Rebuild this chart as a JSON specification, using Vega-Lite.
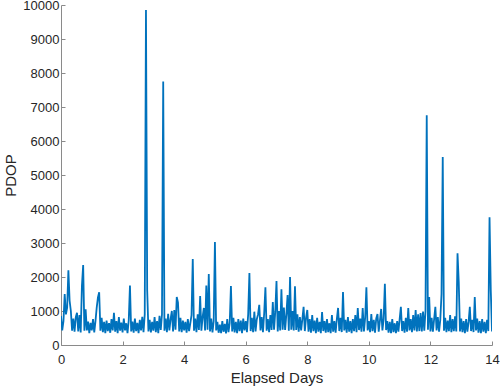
{
  "$schema": "https://vega.github.io/schema/vega-lite/v6.json",
  "width": 431,
  "height": 340,
  "autosize": {"type": "none"},
  "padding": {"left": 61, "top": 5, "right": 8, "bottom": 42},
  "background": "white",
  "config": {
    "view": {"stroke": null},
    "font": "Liberation Sans",
    "axis": {
      "domainColor": "#8a8a8a",
      "tickColor": "#8a8a8a",
      "labelColor": "#262626",
      "titleColor": "#262626",
      "labelFontSize": 13,
      "titleFontSize": 15,
      "titleFontWeight": "normal",
      "grid": false,
      "tickSize": -4,
      "labelFont": "Liberation Sans",
      "titleFont": "Liberation Sans",
      "format": "d"
    }
  },
  "data": {
    "values": [
      {"day":0.00,"pdop":850},{"day":0.04,"pdop":430},{"day":0.08,"pdop":700},{"day":0.12,"pdop":1500},{"day":0.16,"pdop":900},{"day":0.20,"pdop":1100},{"day":0.24,"pdop":2200},{"day":0.28,"pdop":1300},{"day":0.32,"pdop":1000},{"day":0.36,"pdop":420},{"day":0.40,"pdop":780},{"day":0.44,"pdop":390},{"day":0.48,"pdop":820},{"day":0.52,"pdop":950},{"day":0.56,"pdop":400},{"day":0.60,"pdop":880},{"day":0.64,"pdop":370},{"day":0.68,"pdop":1750},{"day":0.72,"pdop":2350},{"day":0.76,"pdop":420},{"day":0.80,"pdop":1050},{"day":0.84,"pdop":430},{"day":0.88,"pdop":690},{"day":0.92,"pdop":350},{"day":0.96,"pdop":650},
      {"day":1.00,"pdop":430},{"day":1.04,"pdop":760},{"day":1.08,"pdop":370},{"day":1.12,"pdop":700},{"day":1.16,"pdop":1100},{"day":1.20,"pdop":1400},{"day":1.24,"pdop":1550},{"day":1.28,"pdop":420},{"day":1.32,"pdop":800},{"day":1.36,"pdop":380},{"day":1.40,"pdop":680},{"day":1.44,"pdop":350},{"day":1.48,"pdop":720},{"day":1.52,"pdop":410},{"day":1.56,"pdop":640},{"day":1.60,"pdop":360},{"day":1.64,"pdop":760},{"day":1.68,"pdop":430},{"day":1.72,"pdop":950},{"day":1.76,"pdop":390},{"day":1.80,"pdop":700},{"day":1.84,"pdop":350},{"day":1.88,"pdop":820},{"day":1.92,"pdop":420},{"day":1.96,"pdop":660},
      {"day":2.00,"pdop":370},{"day":2.04,"pdop":780},{"day":2.08,"pdop":430},{"day":2.12,"pdop":640},{"day":2.16,"pdop":350},{"day":2.20,"pdop":720},{"day":2.24,"pdop":1750},{"day":2.28,"pdop":400},{"day":2.32,"pdop":690},{"day":2.36,"pdop":360},{"day":2.40,"pdop":780},{"day":2.44,"pdop":410},{"day":2.48,"pdop":650},{"day":2.52,"pdop":350},{"day":2.56,"pdop":740},{"day":2.60,"pdop":430},{"day":2.64,"pdop":830},{"day":2.68,"pdop":380},{"day":2.72,"pdop":900},{"day":2.76,"pdop":9850},{"day":2.80,"pdop":1600},{"day":2.84,"pdop":400},{"day":2.88,"pdop":740},{"day":2.92,"pdop":370},{"day":2.96,"pdop":680},
      {"day":3.00,"pdop":420},{"day":3.04,"pdop":820},{"day":3.08,"pdop":380},{"day":3.12,"pdop":700},{"day":3.16,"pdop":350},{"day":3.20,"pdop":860},{"day":3.24,"pdop":440},{"day":3.28,"pdop":900},{"day":3.32,"pdop":7750},{"day":3.36,"pdop":420},{"day":3.40,"pdop":780},{"day":3.44,"pdop":380},{"day":3.48,"pdop":920},{"day":3.52,"pdop":430},{"day":3.56,"pdop":760},{"day":3.60,"pdop":1000},{"day":3.64,"pdop":400},{"day":3.68,"pdop":1030},{"day":3.72,"pdop":450},{"day":3.76,"pdop":1410},{"day":3.80,"pdop":1250},{"day":3.84,"pdop":400},{"day":3.88,"pdop":800},{"day":3.92,"pdop":380},{"day":3.96,"pdop":720},
      {"day":4.00,"pdop":430},{"day":4.04,"pdop":680},{"day":4.08,"pdop":360},{"day":4.12,"pdop":760},{"day":4.16,"pdop":410},{"day":4.20,"pdop":640},{"day":4.24,"pdop":880},{"day":4.28,"pdop":2530},{"day":4.32,"pdop":420},{"day":4.36,"pdop":780},{"day":4.40,"pdop":380},{"day":4.44,"pdop":900},{"day":4.48,"pdop":440},{"day":4.52,"pdop":1440},{"day":4.56,"pdop":420},{"day":4.60,"pdop":820},{"day":4.64,"pdop":1090},{"day":4.68,"pdop":430},{"day":4.72,"pdop":1750},{"day":4.76,"pdop":450},{"day":4.80,"pdop":2090},{"day":4.84,"pdop":400},{"day":4.88,"pdop":780},{"day":4.92,"pdop":370},{"day":4.96,"pdop":700},
      {"day":5.00,"pdop":3030},{"day":5.04,"pdop":430},{"day":5.08,"pdop":680},{"day":5.12,"pdop":360},{"day":5.16,"pdop":600},{"day":5.20,"pdop":350},{"day":5.24,"pdop":700},{"day":5.28,"pdop":390},{"day":5.32,"pdop":620},{"day":5.36,"pdop":340},{"day":5.40,"pdop":760},{"day":5.44,"pdop":380},{"day":5.48,"pdop":640},{"day":5.52,"pdop":1735},{"day":5.56,"pdop":400},{"day":5.60,"pdop":800},{"day":5.64,"pdop":370},{"day":5.68,"pdop":680},{"day":5.72,"pdop":350},{"day":5.76,"pdop":760},{"day":5.80,"pdop":410},{"day":5.84,"pdop":720},{"day":5.88,"pdop":350},{"day":5.92,"pdop":780},{"day":5.96,"pdop":430},
      {"day":6.00,"pdop":700},{"day":6.04,"pdop":380},{"day":6.08,"pdop":900},{"day":6.12,"pdop":2120},{"day":6.16,"pdop":410},{"day":6.20,"pdop":800},{"day":6.24,"pdop":380},{"day":6.28,"pdop":980},{"day":6.32,"pdop":400},{"day":6.36,"pdop":760},{"day":6.40,"pdop":900},{"day":6.44,"pdop":1180},{"day":6.48,"pdop":430},{"day":6.52,"pdop":820},{"day":6.56,"pdop":380},{"day":6.60,"pdop":940},{"day":6.64,"pdop":1700},{"day":6.68,"pdop":420},{"day":6.72,"pdop":760},{"day":6.76,"pdop":380},{"day":6.80,"pdop":880},{"day":6.84,"pdop":440},{"day":6.88,"pdop":1260},{"day":6.92,"pdop":450},{"day":6.96,"pdop":980},
      {"day":7.00,"pdop":1880},{"day":7.04,"pdop":400},{"day":7.08,"pdop":1000},{"day":7.12,"pdop":430},{"day":7.16,"pdop":1640},{"day":7.20,"pdop":450},{"day":7.24,"pdop":1100},{"day":7.28,"pdop":440},{"day":7.32,"pdop":900},{"day":7.36,"pdop":1470},{"day":7.40,"pdop":420},{"day":7.44,"pdop":2000},{"day":7.48,"pdop":450},{"day":7.52,"pdop":1000},{"day":7.56,"pdop":430},{"day":7.60,"pdop":1730},{"day":7.64,"pdop":440},{"day":7.68,"pdop":900},{"day":7.72,"pdop":390},{"day":7.76,"pdop":820},{"day":7.80,"pdop":430},{"day":7.84,"pdop":760},{"day":7.88,"pdop":1120},{"day":7.92,"pdop":410},{"day":7.96,"pdop":800},
      {"day":8.00,"pdop":1030},{"day":8.04,"pdop":390},{"day":8.08,"pdop":760},{"day":8.12,"pdop":360},{"day":8.16,"pdop":880},{"day":8.20,"pdop":410},{"day":8.24,"pdop":720},{"day":8.28,"pdop":350},{"day":8.32,"pdop":800},{"day":8.36,"pdop":390},{"day":8.40,"pdop":680},{"day":8.44,"pdop":350},{"day":8.48,"pdop":970},{"day":8.52,"pdop":410},{"day":8.56,"pdop":700},{"day":8.60,"pdop":360},{"day":8.64,"pdop":760},{"day":8.68,"pdop":380},{"day":8.72,"pdop":640},{"day":8.76,"pdop":350},{"day":8.80,"pdop":880},{"day":8.84,"pdop":390},{"day":8.88,"pdop":700},{"day":8.92,"pdop":360},{"day":8.96,"pdop":760},
      {"day":9.00,"pdop":1090},{"day":9.04,"pdop":410},{"day":9.08,"pdop":800},{"day":9.12,"pdop":380},{"day":9.16,"pdop":1560},{"day":9.20,"pdop":430},{"day":9.24,"pdop":740},{"day":9.28,"pdop":360},{"day":9.32,"pdop":820},{"day":9.36,"pdop":390},{"day":9.40,"pdop":700},{"day":9.44,"pdop":350},{"day":9.48,"pdop":760},{"day":9.52,"pdop":410},{"day":9.56,"pdop":880},{"day":9.60,"pdop":380},{"day":9.64,"pdop":1090},{"day":9.68,"pdop":440},{"day":9.72,"pdop":780},{"day":9.76,"pdop":390},{"day":9.80,"pdop":1090},{"day":9.84,"pdop":400},{"day":9.88,"pdop":800},{"day":9.92,"pdop":1700},{"day":9.96,"pdop":430},
      {"day":10.00,"pdop":700},{"day":10.04,"pdop":380},{"day":10.08,"pdop":910},{"day":10.12,"pdop":410},{"day":10.16,"pdop":740},{"day":10.20,"pdop":360},{"day":10.24,"pdop":780},{"day":10.28,"pdop":910},{"day":10.32,"pdop":390},{"day":10.36,"pdop":720},{"day":10.40,"pdop":1060},{"day":10.44,"pdop":430},{"day":10.48,"pdop":760},{"day":10.52,"pdop":1800},{"day":10.56,"pdop":440},{"day":10.60,"pdop":700},{"day":10.64,"pdop":360},{"day":10.68,"pdop":680},{"day":10.72,"pdop":350},{"day":10.76,"pdop":760},{"day":10.80,"pdop":380},{"day":10.84,"pdop":640},{"day":10.88,"pdop":350},{"day":10.92,"pdop":700},{"day":10.96,"pdop":390},
      {"day":11.00,"pdop":760},{"day":11.04,"pdop":1120},{"day":11.08,"pdop":410},{"day":11.12,"pdop":700},{"day":11.16,"pdop":360},{"day":11.20,"pdop":800},{"day":11.24,"pdop":390},{"day":11.28,"pdop":1090},{"day":11.32,"pdop":430},{"day":11.36,"pdop":760},{"day":11.40,"pdop":380},{"day":11.44,"pdop":880},{"day":11.48,"pdop":430},{"day":11.52,"pdop":1030},{"day":11.56,"pdop":400},{"day":11.60,"pdop":900},{"day":11.64,"pdop":410},{"day":11.68,"pdop":940},{"day":11.72,"pdop":400},{"day":11.76,"pdop":980},{"day":11.80,"pdop":420},{"day":11.84,"pdop":1000},{"day":11.88,"pdop":6760},{"day":11.92,"pdop":450},{"day":11.96,"pdop":1410},
      {"day":12.00,"pdop":400},{"day":12.04,"pdop":800},{"day":12.08,"pdop":390},{"day":12.12,"pdop":760},{"day":12.16,"pdop":1120},{"day":12.20,"pdop":430},{"day":12.24,"pdop":820},{"day":12.28,"pdop":390},{"day":12.32,"pdop":740},{"day":12.36,"pdop":1500},{"day":12.40,"pdop":5530},{"day":12.44,"pdop":420},{"day":12.48,"pdop":800},{"day":12.52,"pdop":380},{"day":12.56,"pdop":720},{"day":12.60,"pdop":410},{"day":12.64,"pdop":880},{"day":12.68,"pdop":380},{"day":12.72,"pdop":760},{"day":12.76,"pdop":410},{"day":12.80,"pdop":840},{"day":12.84,"pdop":400},{"day":12.88,"pdop":2700},{"day":12.92,"pdop":1850},{"day":12.96,"pdop":400},
      {"day":13.00,"pdop":780},{"day":13.04,"pdop":380},{"day":13.08,"pdop":700},{"day":13.12,"pdop":350},{"day":13.16,"pdop":760},{"day":13.20,"pdop":390},{"day":13.24,"pdop":680},{"day":13.28,"pdop":1120},{"day":13.32,"pdop":410},{"day":13.36,"pdop":740},{"day":13.40,"pdop":380},{"day":13.44,"pdop":1410},{"day":13.48,"pdop":430},{"day":13.52,"pdop":780},{"day":13.56,"pdop":360},{"day":13.60,"pdop":700},{"day":13.64,"pdop":350},{"day":13.68,"pdop":760},{"day":13.72,"pdop":390},{"day":13.76,"pdop":680},{"day":13.80,"pdop":350},{"day":13.84,"pdop":740},{"day":13.88,"pdop":410},{"day":13.92,"pdop":3760},{"day":13.96,"pdop":1620},{"day":14.00,"pdop":400}
    ]
  },
  "mark": {"type": "line", "color": "#0072BD", "strokeWidth": 1.8, "clip": true},
  "encoding": {
    "x": {
      "field": "day",
      "type": "quantitative",
      "scale": {"domain": [0, 14], "nice": false, "zero": false},
      "axis": {"title": "Elapsed Days", "values": [0, 2, 4, 6, 8, 10, 12, 14], "labelPadding": 12, "titlePadding": 4, "labelFlush": false}
    },
    "y": {
      "field": "pdop",
      "type": "quantitative",
      "scale": {"domain": [0, 10000], "nice": false},
      "axis": {"title": "PDOP", "values": [0, 1000, 2000, 3000, 4000, 5000, 6000, 7000, 8000, 9000, 10000], "labelPadding": 6, "titlePadding": 4, "labelFlush": false}
    }
  }
}
